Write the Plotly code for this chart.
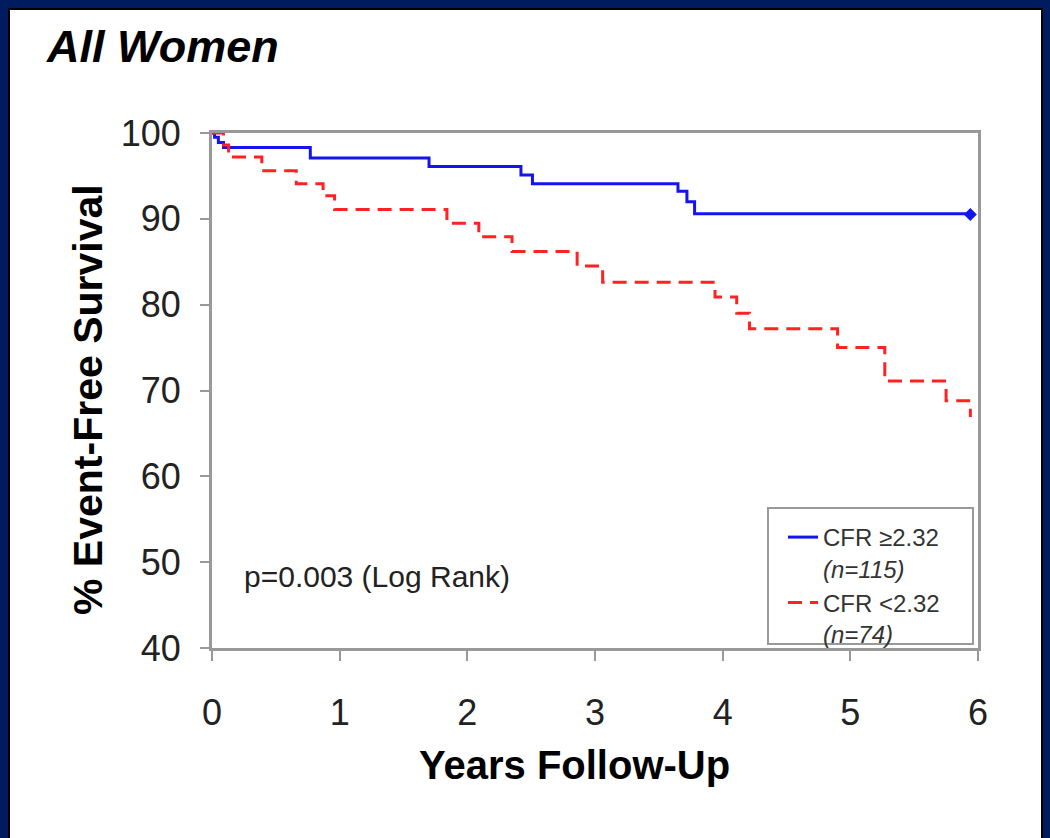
import plotly.graph_objects as go

# ---- data ----
blue_years = [0, 0.02, 0.05, 0.09, 0.77, 1.70, 2.42, 2.51, 3.65, 3.72, 3.78, 5.97]
blue_surv = [100, 99.5, 98.9, 98.3, 97.1, 96.1, 95.1, 94.1, 93.2, 92.0, 90.6, 90.6]

red_years = [0, 0.09, 0.13, 0.39, 0.66, 0.87, 0.96, 1.84, 2.09, 2.35, 2.86, 3.06,
             3.94, 4.11, 4.21, 4.90, 5.27, 5.75, 5.94]
red_surv = [100, 98.6, 97.2, 95.6, 94.1, 92.7, 91.1, 89.5, 87.9, 86.2, 84.5, 82.6,
            80.9, 79.0, 77.2, 75.0, 71.1, 68.8, 66.9]

censor_years = [5.94]
censor_surv = [90.5]

x_ticks = [0, 1, 2, 3, 4, 5, 6]
y_ticks = [40, 50, 60, 70, 80, 90, 100]

blue_name = "CFR \u22652.32<br><i>(n=115)</i>"
red_name = "CFR <2.32<br><i>(n=74)</i>"
title_text = "All Women"
x_title = "Years Follow-Up"
y_title = "% Event-Free Survival"
p_text = "p=0.003 (Log Rank)"

FONT = "Liberation Sans, Arial, Helvetica, sans-serif"
NAVY = "#001b5e"
W, H = 1050, 838
# plot-area edges in screen pixels
L, R, T, B = 212, 978, 133, 648
PW, PH = R - L, B - T


def px(xs):
    return (xs - L) / PW


def py(ys):
    return (B - ys) / PH


fig = go.Figure()
fig.add_trace(go.Scatter(
    x=blue_years, y=blue_surv, mode="lines", line_shape="hv",
    line=dict(color="#1414ee", width=3), name=blue_name, cliponaxis=False))
fig.add_trace(go.Scatter(
    x=red_years, y=red_surv, mode="lines", line_shape="hv",
    line=dict(color="#ff2222", width=3, dash="14px,8px"), name=red_name, cliponaxis=False))
fig.add_trace(go.Scatter(
    x=censor_years, y=censor_surv, mode="markers",
    marker=dict(symbol="diamond", size=10, color="#1414ee"), showlegend=False))

axis_common = dict(
    showline=True, linecolor="#999999", linewidth=3, mirror=True,
    ticks="outside", tickcolor="#999999", tickwidth=2,
    showgrid=False, zeroline=False,
    tickfont=dict(family=FONT, size=36, color="#222222"),
)

fig.update_layout(
    width=W, height=H,
    margin=dict(l=L, r=W - R, t=T, b=H - B, pad=0),
    paper_bgcolor=NAVY,
    plot_bgcolor="white",
    font=dict(family=FONT),
    xaxis=dict(range=[0, 6], tickvals=x_ticks, ticklen=10, ticklabelstandoff=21, **axis_common),
    yaxis=dict(range=[40, 100], tickvals=y_ticks, ticklen=9, ticklabelstandoff=12, **axis_common),
    showlegend=True,
    legend=dict(
        x=px(783), y=py(515), xanchor="left", yanchor="top",
        bgcolor="rgba(0,0,0,0)", borderwidth=0, valign="top",
        font=dict(family=FONT, size=24, color="#333333"),
        tracegroupgap=0,
    ),
    shapes=[
        dict(type="rect", xref="paper", yref="paper", layer="below",
             x0=px(9), x1=px(1042), y0=py(850), y1=py(9),
             fillcolor="white", line=dict(color="black", width=2)),
        dict(type="rect", xref="paper", yref="paper", layer="above",
             x0=px(768), x1=px(973), y0=py(644), y1=py(508),
             fillcolor="rgba(0,0,0,0)", line=dict(color="#999999", width=2)),
    ],
    annotations=[
        dict(text="<b><i>" + title_text + "</i></b>", xref="paper", yref="paper",
             x=px(44), y=py(47), xanchor="left", yanchor="middle", showarrow=False,
             font=dict(family=FONT, size=45, color="black")),
        dict(text="<b>" + x_title + "</b>", xref="paper", yref="paper",
             x=px(574), y=py(765), xanchor="center", yanchor="middle", showarrow=False,
             font=dict(family=FONT, size=40, color="black")),
        dict(text="<b>" + y_title + "</b>", xref="paper", yref="paper",
             x=px(88), y=py(400), xanchor="center", yanchor="middle", showarrow=False,
             textangle=-90, font=dict(family=FONT, size=41, color="black")),
        dict(text=p_text, xref="paper", yref="paper",
             x=px(242), y=py(576), xanchor="left", yanchor="middle", showarrow=False,
             font=dict(family=FONT, size=30, color="#222222")),
    ],
)

fig.write_html(
    "out.html",
    config={"displayModeBar": False},
    post_script="document.body.style.margin='0px';document.body.style.background='" + NAVY + "';",
)
